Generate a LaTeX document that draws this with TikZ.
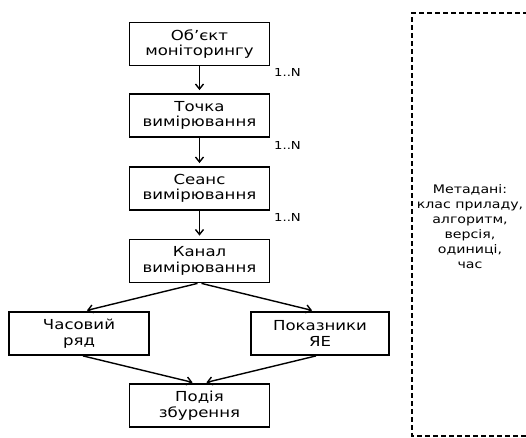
\documentclass[tikz,border=0pt]{standalone}
\usepackage{fontspec}
\setmainfont{DejaVu Sans}[FakeStretch=1.2]
\usetikzlibrary{arrows.meta}
\begin{document}
\begin{tikzpicture}[x=1pt,y=-1pt,
  box/.style={draw, line width=1.8pt, minimum width=140pt, minimum height=43pt,
    align=center, inner sep=2pt, font=\fontsize{13.8}{15.5}\selectfont},
  flow/.style={line width=1.4pt, -{Straight Barb[length=5pt,width=8pt]}, shorten >=3pt},
  mult/.style={anchor=west, inner sep=1pt, font=\fontsize{11}{13}\selectfont},
  meta/.style={align=center, font=\fontsize{11.8}{15}\selectfont}]
\clip (0,0) rectangle (526,437);
\useasboundingbox (0,0) rectangle (526,437);

% main chain of entities
\node[box] (obj)    at (199.5,44)    {Об’єкт\\моніторингу};
\node[box] (tochka) at (199.5,115.5) {Точка\\вимірювання};
\node[box] (seans)  at (199.5,188.5) {Сеанс\\вимірювання};
\node[box] (kanal)  at (199.5,261)   {Канал\\вимірювання};
\node[box] (chas)   at (79,333.5)    {Часовий\\ряд};
\node[box, minimum width=138pt] (pokaz) at (320,333.5) {Показники\\ЯЕ};
\node[box] (podiya) at (199.5,405.5) {Подія\\збурення};

% connectors
\draw[flow] (obj) -- (tochka);
\draw[flow] (tochka) -- (seans);
\draw[flow] (seans) -- (kanal);
\draw[flow] ([xshift=-2pt]kanal.south) -- ([xshift=5pt]chas.north);
\draw[flow] ([xshift=2pt]kanal.south) -- ([xshift=-5pt]pokaz.north);
\draw[flow] ([xshift=4pt]chas.south) -- ([xshift=-4pt]podiya.north);
\draw[flow] ([xshift=-4pt]pokaz.south) -- ([xshift=4pt]podiya.north);

% multiplicities
\node[mult] (m1) at (273,72)  {1..N};
\node[mult] (m2) at (273,145) {1..N};
\node[mult] (m3) at (273,217) {1..N};

% metadata frame
\draw[line width=1.5pt, dash pattern=on 5pt off 3pt] (560,13) -- (412,13) -- (412,436) -- (560,436);
\node[meta] (metadata) at (470,227) {Метадані:\\клас приладу,\\алгоритм,\\версія,\\одиниці,\\час};
\end{tikzpicture}
\end{document}
